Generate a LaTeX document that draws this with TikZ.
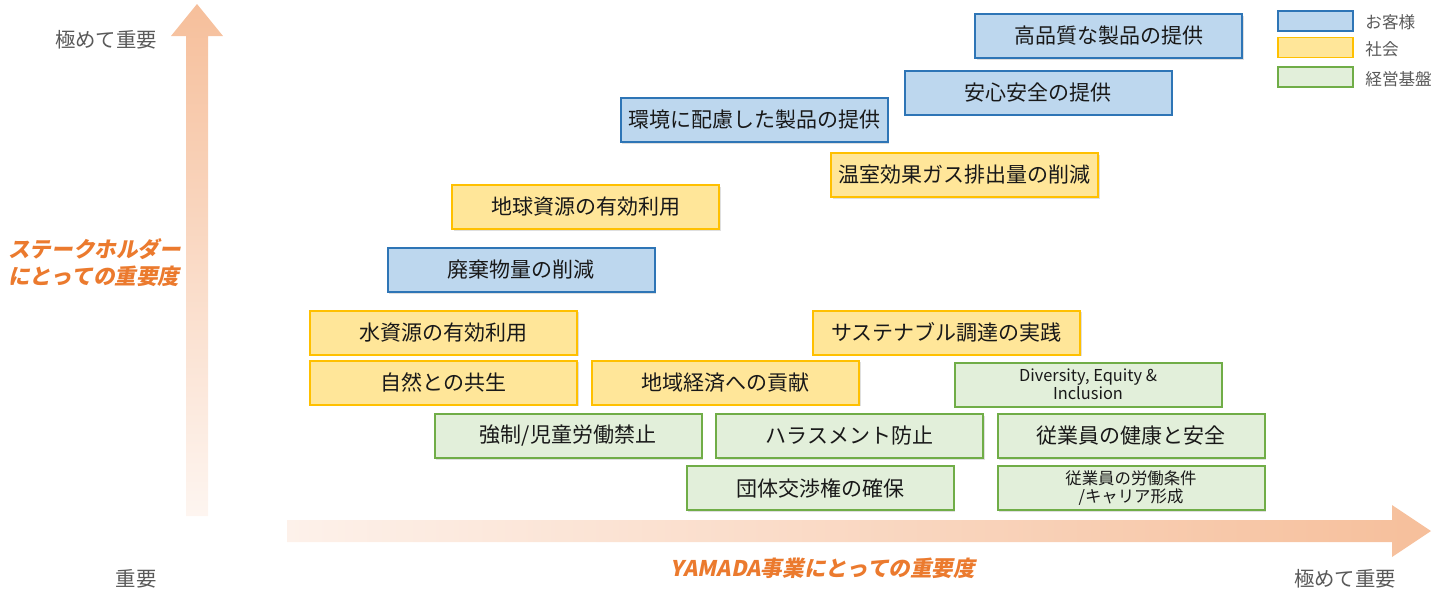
\documentclass[tikz,border=0pt]{standalone}
\usepackage{fontspec}
\setmainfont{Noto Sans CJK JP}
\newfontfamily\jpsl[FakeSlant=0.2]{Noto Sans CJK JP}
\usetikzlibrary{shadows}
\definecolor{bfill}{HTML}{BDD7EE}
\definecolor{bline}{HTML}{2E75B6}
\definecolor{yfill}{HTML}{FFE699}
\definecolor{yline}{HTML}{FFC000}
\definecolor{gfill}{HTML}{E2EFDA}
\definecolor{gline}{HTML}{70AD47}
\definecolor{axgray}{HTML}{595959}
\definecolor{orlabel}{HTML}{EB7A2E}
\definecolor{arrdark}{HTML}{F6BF9B}
\definecolor{arrlight}{HTML}{FDF1EA}
\tikzset{
  box/.style={draw, line width=1pt, minimum width=133.5pt, minimum height=22pt,
    inner sep=0pt, align=center, text=black!90,
    font=\fontsize{10.5}{12}\selectfont,
    drop shadow={opacity=0.25, shadow xshift=0.8pt, shadow yshift=-0.8pt}},
  bbox/.style={box, fill=bfill, draw=bline},
  ybox/.style={box, fill=yfill, draw=yline},
  gbox/.style={box, fill=gfill, draw=gline},
  small/.style={font=\fontsize{8.2}{9.2}\selectfont},
  axtext/.style={text=axgray, font=\fontsize{10.2}{12}\selectfont, inner sep=0pt},
  ortext/.style={text=orlabel, font=\jpsl\bfseries\fontsize{10.8}{13.5}\selectfont, inner sep=0pt},
  legbox/.style={draw, line width=0.9pt, minimum width=37.5pt, minimum height=10pt, inner sep=0pt},
  legtext/.style={text=axgray, font=\fontsize{8.3}{10}\selectfont, inner sep=0pt, anchor=west}
}
\begin{document}
\begin{tikzpicture}[x=0.5pt,y=-0.5pt]
\useasboundingbox (0,0) rectangle (1440,596);
% axes
\path[top color=arrdark, bottom color=arrlight!70!white]
  (186,516) -- (186,36) -- (171,36) -- (197,4) -- (223,36) -- (208,36) -- (208,516) -- cycle;
\path[left color=arrlight, right color=arrdark]
  (287,520) -- (1392,520) -- (1392,505) -- (1431,531) -- (1392,557) -- (1392,542) -- (287,542) -- cycle;
% axis texts
\node[axtext] (ytop) at (106,40) {極めて重要};
\node[axtext] (orig) at (136,579) {重要};
\node[axtext] (xend) at (1345,579) {極めて重要};
\node[ortext, align=left, anchor=west] (ylab) at (8,263) {ステークホルダー\\にとっての重要度};
\node[ortext] (xlab) at (823,568) {YAMADA事業にとっての重要度};
% legend
\node[legbox, fill=bfill, draw=bline] (lb) at (1315.5,21) {};
\node[legbox, fill=yfill, draw=yline] (ly) at (1315.5,47.5) {};
\node[legbox, fill=gfill, draw=gline] (lg) at (1315.5,77) {};
\node[legtext] (lbt) at (1365,22) {お客様};
\node[legtext] (lyt) at (1365,49) {社会};
\node[legtext] (lgt) at (1365,79) {経営基盤};
% boxes
\node[bbox] (b1) at (1108.5,36) {高品質な製品の提供};
\node[bbox] (b2) at (1038,92.5) {安心安全の提供};
\node[bbox] (b3) at (754,120) {環境に配慮した製品の提供};
\node[ybox] (y1) at (964.5,175) {温室効果ガス排出量の削減};
\node[ybox] (y2) at (585.5,207) {地球資源の有効利用};
\node[bbox] (b4) at (521,270) {廃棄物量の削減};
\node[ybox] (y3) at (443.5,332.5) {水資源の有効利用};
\node[ybox] (y4) at (946.5,332.5) {サステナブル調達の実践};
\node[ybox] (y5) at (443.5,382.5) {自然との共生};
\node[ybox] (y6) at (725.5,382.5) {地域経済への貢献};
\node[gbox, small] (g1) at (1088,384.5) {Diversity, Equity \&\\Inclusion};
\node[gbox] (g2) at (568,436) {強制/児童労働禁止};
\node[gbox] (g3) at (849.5,436) {ハラスメント防止};
\node[gbox] (g4) at (1131,436) {従業員の健康と安全};
\node[gbox] (g5) at (820,488) {団体交渉権の確保};
\node[gbox, small] (g6) at (1131,488) {従業員の労働条件\\/キャリア形成};
\end{tikzpicture}
\end{document}
